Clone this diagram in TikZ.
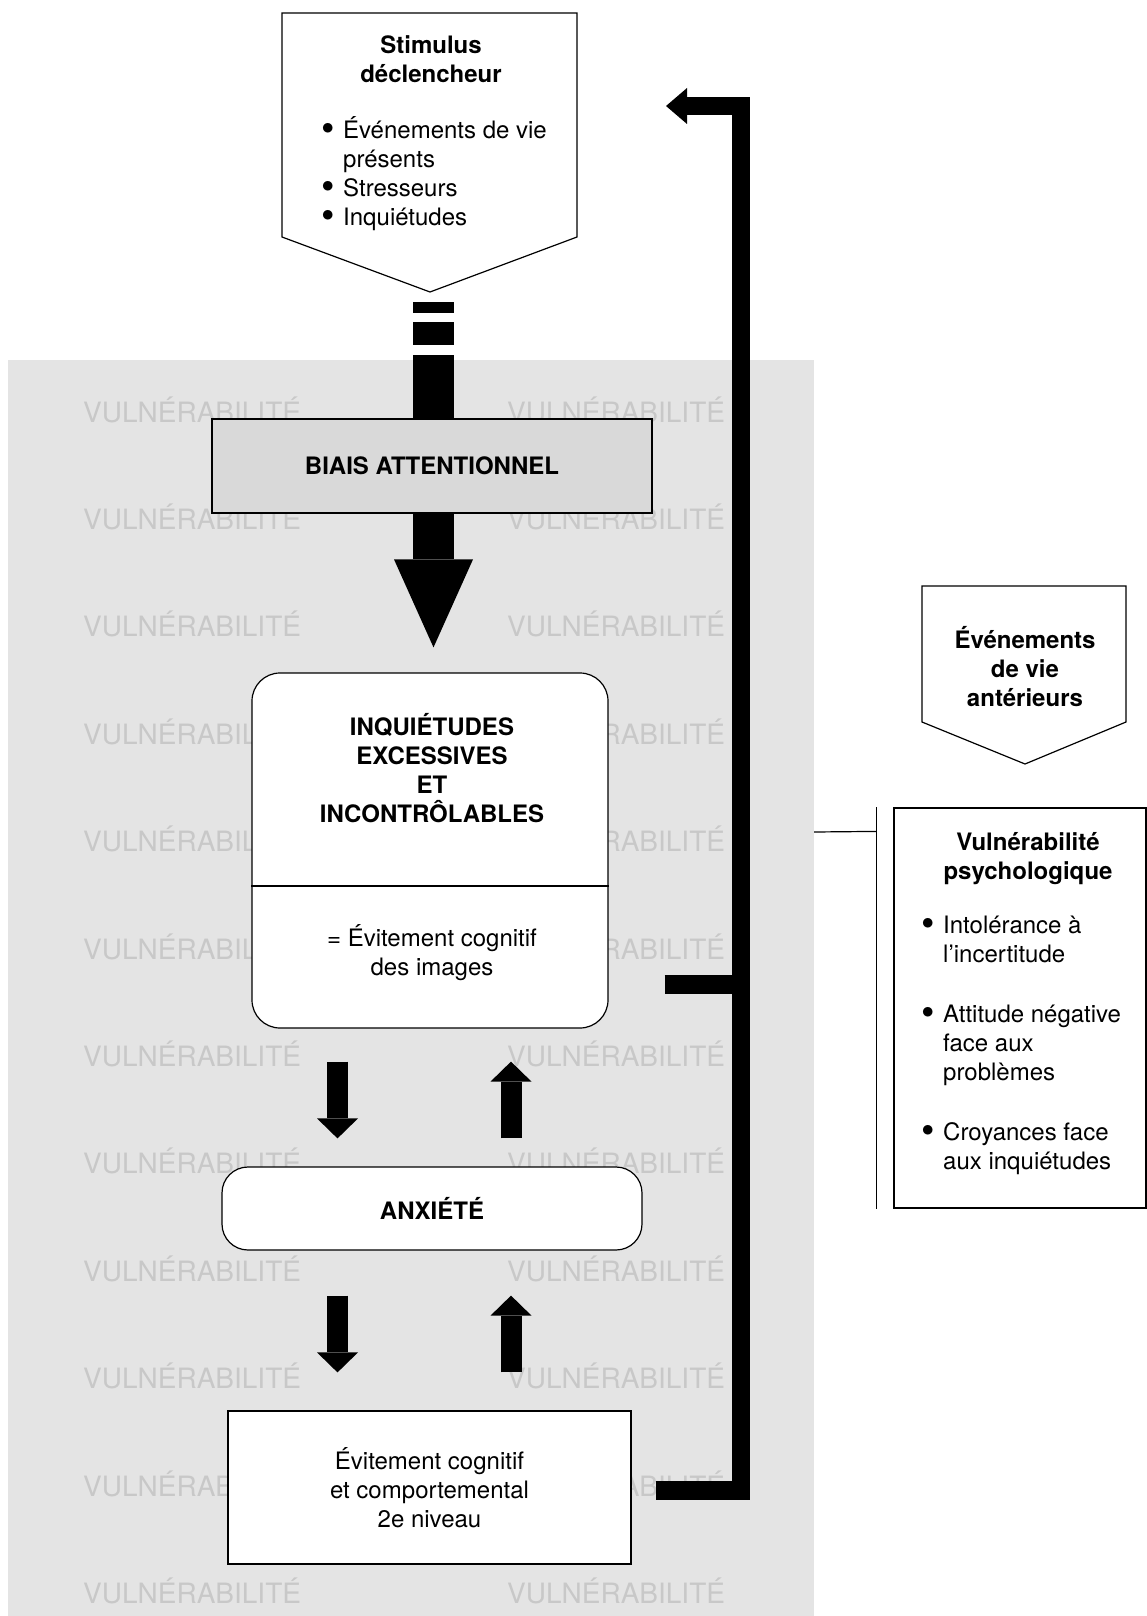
\documentclass[tikz,border=0pt]{standalone}
\usepackage{fontspec}
\setmainfont{TeX Gyre Heros}
\usetikzlibrary{arrows.meta,calc}
\definecolor{bggray}{HTML}{E4E4E4}
\definecolor{markgray}{HTML}{C8C8C8}
\definecolor{biaisgray}{HTML}{D9D9D9}
\newcommand\bul{\makebox[22pt][l]{\smash{\raisebox{-0.13em}{\scalebox{1.6}{\textbullet}}}}}

\begin{document}
\begin{tikzpicture}[x=1pt,y=-1pt,
    every node/.style={inner sep=0pt, font=\fontsize{24}{29}\selectfont},
    titletext/.style={align=center, font=\fontsize{24}{29}\selectfont\bfseries},
    listtext/.style={align=left, anchor=west},
    box/.style={draw, line width=1.2pt, fill=white},
    rbox/.style={box, rounded corners=28pt},
    wmark/.style={anchor=base west, text=markgray, font=\fontsize{28}{30}\selectfont},
    bigarrow/.style={line width=41pt,
        dash pattern=on 11pt off 9pt on 23pt off 10pt on 600pt off 0pt,
        -{Triangle[line width=0pt, width=79pt, length=88pt]}},
    smallarrow/.style={line width=21pt, -{Triangle[line width=0pt, width=41pt, length=20pt]}},
    returnline/.style={line width=18.5pt, line join=miter}]
\useasboundingbox (0,0) rectangle (1147,1616);

% grey zone with the watermark
\fill[bggray] (8,360) rectangle (814,1616);
\foreach \r in {0,...,11}{
    \node[wmark] (wl\r) at (83,422+107.4*\r) {VULNÉRABILITÉ};
    \node[wmark] (wr\r) at (507,422+107.4*\r) {VULNÉRABILITÉ};
}

% stimulus
\draw[box] (282,13) -- (577,13) -- (577,237) -- (430,292) -- (282,237) -- cycle;
\coordinate (stimtip) at (430,292);
\node[titletext] (stimtitle) at (431,59) {Stimulus\\déclencheur};
\node[listtext] (stimlist) at (321,173.5) {\bul Événements de vie\\\hspace*{22pt}présents\\\bul Stresseurs\\\bul Inquiétudes};

% main column
\node[rbox, minimum width=356pt, minimum height=355pt] (inq) at (430,850.5) {};
\draw[line width=1.2pt] ($(inq.west)+(0,35.5)$) -- ($(inq.east)+(0,35.5)$);
\node[titletext] (inqtitle) at (432,768.5) {INQUIÉTUDES\\EXCESSIVES\\ET\\INCONTRÔLABLES};
\node[align=center] (inqsub) at (432,953) {= Évitement cognitif\\des images};

\draw[bigarrow] ($(stimtip)+(3.5,10)$) -- ($(inq.north)+(3.5,-25)$);
\node[box, fill=biaisgray, minimum width=440pt, minimum height=94pt, titletext] (biais) at (432,466) {BIAIS ATTENTIONNEL};

\node[rbox, rounded corners=26pt, minimum width=420pt, minimum height=83pt, titletext] (anx) at (432,1208.5) {ANXIÉTÉ};
\node[box, minimum width=403pt, minimum height=153pt, align=center] (bot) at (429.5,1487.5) {Évitement cognitif\\et comportemental\\2e niveau};

\draw[smallarrow] ($(inq.south)+(-92.5,33)$) -- ($(anx.north)+(-94.5,-28)$);
\draw[smallarrow] ($(anx.north)+(79,-28)$) -- ($(inq.south)+(81,33)$);
\draw[smallarrow] ($(anx.south)+(-94.5,45)$) -- ($(bot.north)+(-92,-38)$);
\draw[smallarrow] ($(bot.north)+(81.5,-38)$) -- ($(anx.south)+(79,45)$);

% feedback line
\coordinate (rettip) at (666,106);
\draw[returnline, -{Triangle[line width=0pt, width=36pt, length=21pt]}] ($(bot.east)+(24,3)$) -| (741,106) -- (rettip);
\draw[returnline] ($(inq.east)+(56,134)$) -- (741,984.5);

% right column
\draw[box] (922,586) -- (1126,586) -- (1126,722) -- (1025,764) -- (922,722) -- cycle;
\node[titletext] (evtext) at (1025,666.5) {Événements\\de vie\\antérieurs};

\node[box, minimum width=252pt, minimum height=400pt] (vuln) at (1020,1008) {};
\node[titletext] (vulntitle) at (1028,859) {Vulnérabilité\\psychologique};
\node[listtext] (vulnlist) at (921,1045.5) {\bul Intolérance à\\\hspace*{22pt}l’incertitude\\[31pt]\bul Attitude négative\\\hspace*{22pt}face aux\\\hspace*{22pt}problèmes\\[31pt]\bul Croyances face\\\hspace*{22pt}aux inquiétudes};
\draw[line width=1.2pt] ($(vuln.north west)+(-17,0)$) -- ($(vuln.south west)+(-17,0)$);
\draw[line width=1.2pt] (814,832) -- ($(vuln.north west)+(-17,24)$);
\end{tikzpicture}
\end{document}
